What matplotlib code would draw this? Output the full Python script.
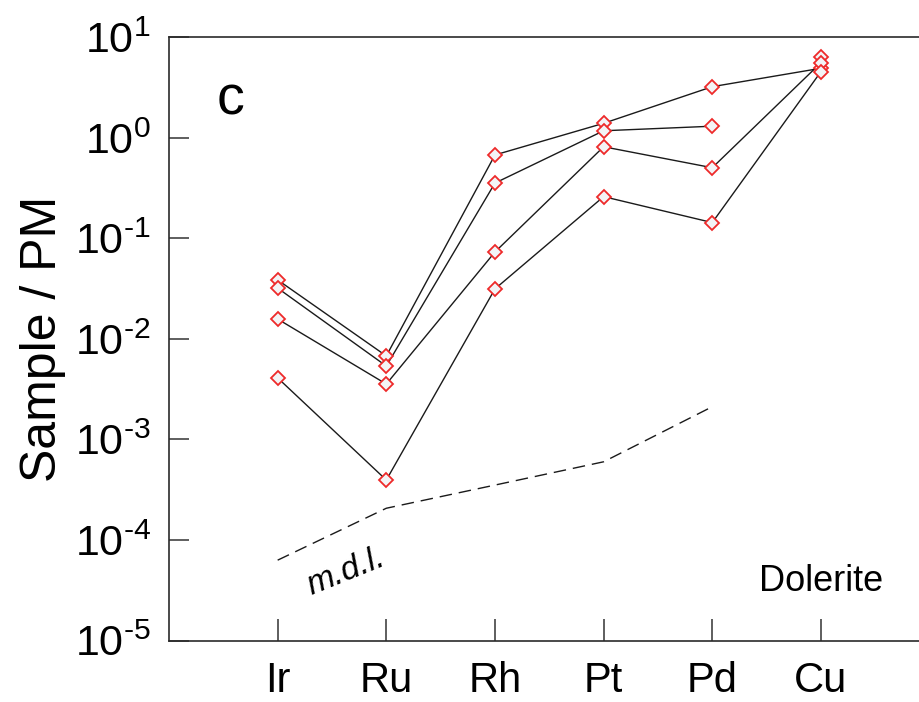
import numpy as np
import matplotlib
matplotlib.use("Agg")
import matplotlib.pyplot as plt

plt.rcParams['font.family'] = ['Liberation Sans', 'DejaVu Sans']
plt.rcParams['mathtext.fontset'] = 'custom'
plt.rcParams['mathtext.rm'] = 'Liberation Sans'
plt.rcParams['mathtext.it'] = 'Liberation Sans:italic'

# element order and normalised values
elements = ['Ir', 'Ru', 'Rh', 'Pt', 'Pd', 'Cu']
sample1 = [0.0387, 0.00678, 0.678, 1.40, 3.24, 4.94]
sample2 = [0.0321, 0.00538, 0.356, 1.18, 1.31, 6.35]
sample3 = [0.0158, 0.00356, 0.0734, 0.818, 0.506, 5.61]
sample4 = [0.0041, 0.000395, 0.0315, 0.261, 0.144, 4.57]
# sample 2 has no line drawn to Cu in the original
connected = [True, False, True, True]
mdl = [6.3e-5, 2.07e-4, 3.52e-4, 6.0e-4, 2.12e-3]

yticks = [1e-5, 1e-4, 1e-3, 1e-2, 1e-1, 1e0, 1e1]
exps = ['-5', '-4', '-3', '-2', '-1', '0', '1']
ytick_labels = [r'$\mathregular{10^{%s}}$' % e.replace('-', r'\text{-}') for e in exps]

fig = plt.figure(figsize=(9.2, 7.02), dpi=100)
ax = fig.add_axes([0.1837, 0.0876, 0.8267, 0.859])

x = np.arange(len(elements))
for vals, conn in zip([sample1, sample2, sample3, sample4], connected):
    vals = np.array(vals, dtype=float)
    line_vals = vals.copy()
    if not conn:
        line_vals[-1] = np.nan
    ax.plot(x, line_vals, color='#1a1a1a', lw=1.0, zorder=2)
    ax.plot(x, vals, ls='none', marker='D', ms=7.3, mfc='#f3f4f6',
            mec='#ee2a2a', mew=1.3, zorder=3)

ax.plot(x[:len(mdl)], mdl, color='#1a1a1a', lw=1.0, dashes=(9, 5), zorder=2)

ax.set_yscale('log')
ax.set_ylim(1e-5, 1e1)
ax.set_xlim(-1, 6)
ax.set_yticks(yticks)
ax.set_yticklabels(ytick_labels)
ax.minorticks_off()
ax.set_xticks(x)
ax.set_xticklabels(elements)

ax.tick_params(axis='y', direction='in', length=14.5, width=1.1, color='#333333',
               labelsize=31, pad=13)
ax.tick_params(axis='x', direction='in', length=16, width=1.1, color='#333333',
               labelsize=30, pad=15)
for s in ax.spines.values():
    s.set_linewidth(1.2)
    s.set_color('#2a2a2a')

ax.set_ylabel('Sample / PM', fontsize=36, labelpad=6)

ax.text(0.081, 0.895, 'c', transform=ax.transAxes, fontsize=40,
        ha='center', va='center')
ax.text(346 / 920, 1 - 572 / 702, 'm.d.l.', fontsize=24, style='italic',
        rotation=22, ha='center', va='center', transform=fig.transFigure)
ax.text(5.0, 3.9e-5, 'Dolerite', fontsize=26, ha='center', va='center')

fig.savefig('out.png', dpi=100)
